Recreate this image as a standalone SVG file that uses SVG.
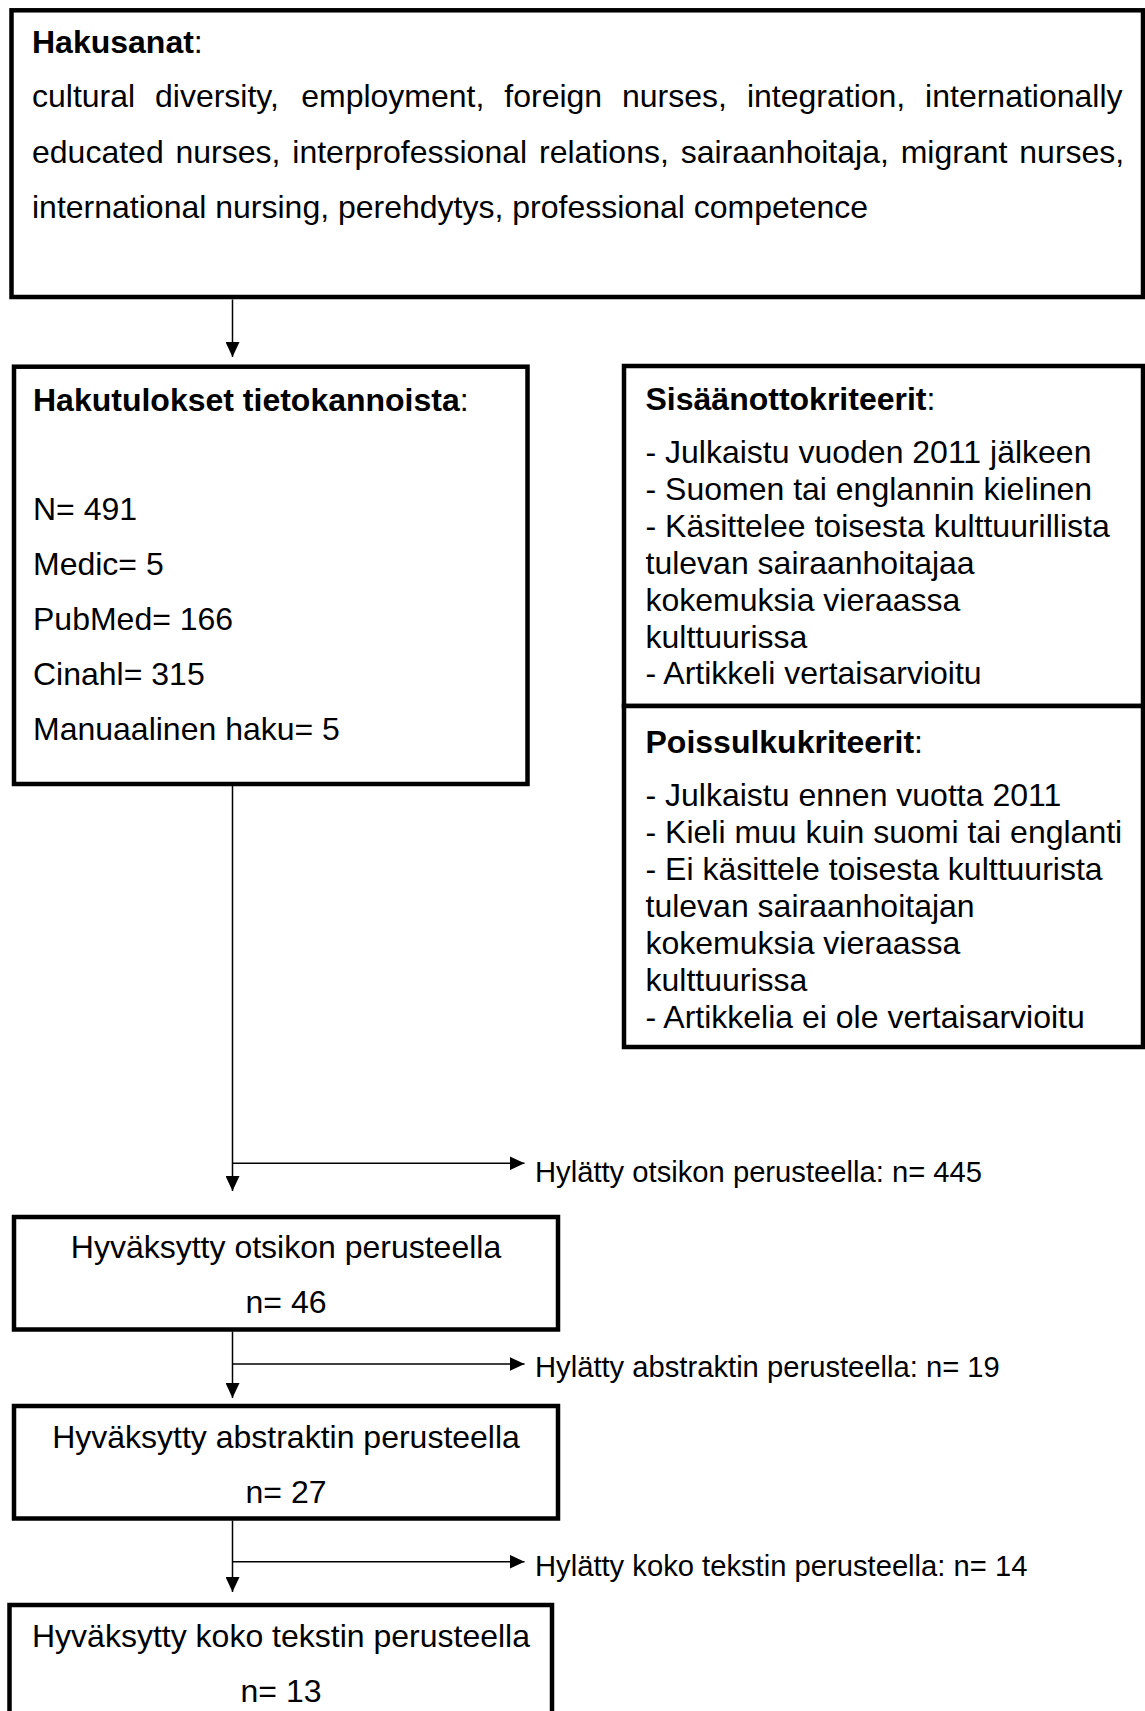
<svg xmlns="http://www.w3.org/2000/svg" width="1145" height="1711" viewBox="0 0 1145 1711">
<defs>
<style>
.box{fill:#fff;stroke:#000;stroke-width:4.5}
.t{font-family:"Liberation Sans",Arial,sans-serif;font-size:32px;fill:#000}
.b{font-weight:bold}
.c{text-anchor:middle}
.lbl{font-family:"Liberation Sans",Arial,sans-serif;font-size:29.2px;fill:#000}
.ln{stroke:#000;stroke-width:1.5;fill:none}
</style>
<marker id="ah" markerUnits="userSpaceOnUse" markerWidth="15" markerHeight="14" refX="15" refY="7" orient="auto">
<path d="M0,0 L15,7 L0,14 z" fill="#000"/>
</marker>
</defs>
<rect width="1145" height="1711" fill="#fff"/>
<g id="connectors">
<line class="ln" x1="232.5" y1="299.5" x2="232.5" y2="357" marker-end="url(#ah)"/>
<line class="ln" x1="232.5" y1="786" x2="232.5" y2="1191" marker-end="url(#ah)"/>
<line class="ln" x1="232.5" y1="1163.3" x2="524.5" y2="1163.3" marker-end="url(#ah)"/>
<line class="ln" x1="232.5" y1="1331.5" x2="232.5" y2="1398" marker-end="url(#ah)"/>
<line class="ln" x1="232.5" y1="1364" x2="524.5" y2="1364" marker-end="url(#ah)"/>
<line class="ln" x1="232.5" y1="1520.5" x2="232.5" y2="1592" marker-end="url(#ah)"/>
<line class="ln" x1="232.5" y1="1561.7" x2="524.5" y2="1561.7" marker-end="url(#ah)"/>
</g>
<g id="hakusanat">
<rect class="box" x="11.5" y="10.3" width="1131.5" height="286.7"/>
<text class="t" x="32" y="52.7"><tspan class="b">Hakusanat</tspan>:</text>
<text class="t" y="107.3"><tspan x="32">cultural</tspan><tspan x="155">diversity,</tspan><tspan x="301.2">employment,</tspan><tspan x="504.3">foreign</tspan><tspan x="622">nurses,</tspan><tspan x="746.9">integration,</tspan><tspan x="925.1">internationally</tspan></text>
<text class="t" y="163.3"><tspan x="32">educated</tspan><tspan x="175.5">nurses,</tspan><tspan x="292.3">interprofessional</tspan><tspan x="539">relations,</tspan><tspan x="680.7">sairaanhoitaja,</tspan><tspan x="900.7">migrant</tspan><tspan x="1019.3">nurses,</tspan></text>
<text class="t" x="32" y="218.3">international nursing, perehdytys, professional competence</text>
</g>
<g id="hakutulokset">
<rect class="box" x="14" y="366.7" width="513.5" height="417.3"/>
<text class="t" x="33" y="410.5"><tspan class="b">Hakutulokset tietokannoista</tspan>:</text>
<text class="t" x="33" y="520">N= 491</text>
<text class="t" x="33" y="575">Medic= 5</text>
<text class="t" x="33" y="630">PubMed= 166</text>
<text class="t" x="33" y="685">Cinahl= 315</text>
<text class="t" x="33" y="740">Manuaalinen haku= 5</text>
</g>
<g id="sisaanotto">
<rect class="box" x="624" y="366" width="519" height="340"/>
<text class="t" x="645.5" y="409.5"><tspan class="b">Sisäänottokriteerit</tspan>:</text>
<text class="t" x="645.5" y="463">- Julkaistu vuoden 2011 jälkeen</text>
<text class="t" x="645.5" y="499.9">- Suomen tai englannin kielinen</text>
<text class="t" x="645.5" y="536.8">- Käsittelee toisesta kulttuurillista</text>
<text class="t" x="645.5" y="573.7">tulevan sairaanhoitajaa</text>
<text class="t" x="645.5" y="610.6">kokemuksia vieraassa</text>
<text class="t" x="645.5" y="647.5">kulttuurissa</text>
<text class="t" x="645.5" y="684.4">- Artikkeli vertaisarvioitu</text>
</g>
<g id="poissulku">
<rect class="box" x="624" y="706" width="519" height="341"/>
<text class="t" x="645.5" y="752.5"><tspan class="b">Poissulkukriteerit</tspan>:</text>
<text class="t" x="645.5" y="806">- Julkaistu ennen vuotta 2011</text>
<text class="t" x="645.5" y="843">- Kieli muu kuin suomi tai englanti</text>
<text class="t" x="645.5" y="880">- Ei käsittele toisesta kulttuurista</text>
<text class="t" x="645.5" y="917">tulevan sairaanhoitajan</text>
<text class="t" x="645.5" y="954">kokemuksia vieraassa</text>
<text class="t" x="645.5" y="991">kulttuurissa</text>
<text class="t" x="645.5" y="1028">- Artikkelia ei ole vertaisarvioitu</text>
</g>
<g id="label-otsikko">
<text class="lbl" x="535" y="1182">Hylätty otsikon perusteella: n= 445</text>
</g>
<g id="otsikko">
<rect class="box" x="14" y="1217" width="544" height="112.5"/>
<text class="t c" x="286" y="1258.3">Hyväksytty otsikon perusteella</text>
<text class="t c" x="286" y="1313.3">n= 46</text>
</g>
<g id="label-abstrakti">
<text class="lbl" x="535" y="1376.7">Hylätty abstraktin perusteella: n= 19</text>
</g>
<g id="abstrakti">
<rect class="box" x="14" y="1406" width="544" height="112.5"/>
<text class="t c" x="286" y="1448.3">Hyväksytty abstraktin perusteella</text>
<text class="t c" x="286" y="1503.3">n= 27</text>
</g>
<g id="label-koko">
<text class="lbl" x="535" y="1576">Hylätty koko tekstin perusteella: n= 14</text>
</g>
<g id="koko">
<rect class="box" x="9.5" y="1605" width="542.5" height="130"/>
<text class="t c" x="281" y="1646.7">Hyväksytty koko tekstin perusteella</text>
<text class="t c" x="281" y="1701.7">n= 13</text>
</g>
</svg>
